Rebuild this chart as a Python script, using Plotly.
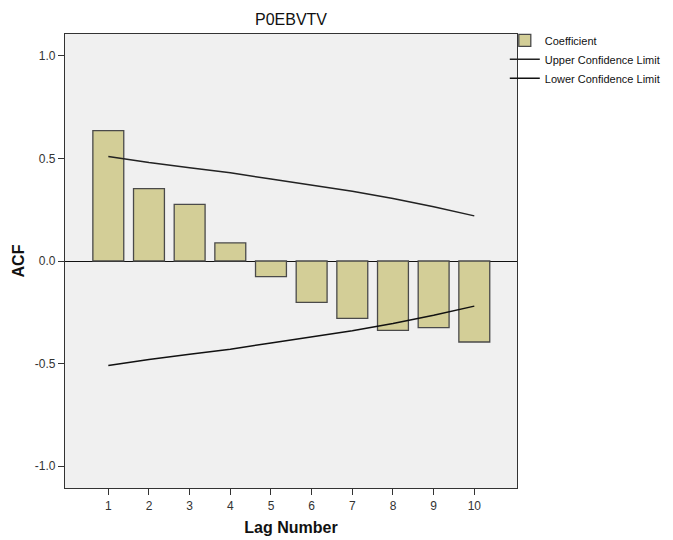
import plotly.graph_objects as go

lags = [1, 2, 3, 4, 5, 6, 7, 8, 9, 10]
coefficient = [0.636, 0.353, 0.276, 0.088, -0.076, -0.202, -0.280, -0.338, -0.325, -0.395]
upper_limit = [0.51, 0.48, 0.455, 0.43, 0.40, 0.37, 0.34, 0.305, 0.265, 0.22]
lower_limit = [-0.51, -0.48, -0.455, -0.43, -0.40, -0.37, -0.34, -0.305, -0.265, -0.22]
y_ticks = [-1.0, -0.5, 0.0, 0.5, 1.0]

font_family = "Liberation Sans, Arial, sans-serif"

# page body has an 8px margin, so the figure is sized/offset to compensate
fig = go.Figure()
fig.add_trace(go.Bar(
    x=lags, y=coefficient, name="Coefficient", width=0.76,
    marker=dict(color="#d3ce97", line=dict(color="#4a4a4a", width=1.3)),
))
fig.add_trace(go.Scatter(
    x=lags, y=upper_limit, mode="lines", name="Upper Confidence Limit",
    line=dict(color="#222222", width=1.5),
))
fig.add_trace(go.Scatter(
    x=lags, y=lower_limit, mode="lines", name="Lower Confidence Limit",
    line=dict(color="#111111", width=1.5),
))

W, H = 665, 532
fig.update_layout(
    width=W, height=H,
    margin=dict(l=57, r=156, t=26, b=52, autoexpand=False),
    paper_bgcolor="white",
    plot_bgcolor="#f0f0f0",
    font=dict(family=font_family, color="#222222"),
    title=dict(text="P0EBVTV", x=(57 + W - 156) / 2 / W, xanchor="center",
               y=1 - 11 / H, yanchor="middle",
               font=dict(size=16, color="#111111")),
    showlegend=True,
    legend=dict(x=0.973, y=1.018, xanchor="left", yanchor="top",
                font=dict(size=11, color="#111111"),
                bgcolor="rgba(0,0,0,0)", tracegroupgap=0,
                itemwidth=30),
    bargap=0.24,
)
fig.update_xaxes(
    range=[-0.065, 11.05], tickmode="array", tickvals=lags,
    ticktext=[str(v) for v in lags], automargin=False,
    ticks="outside", ticklen=6, tickcolor="#333333", tickwidth=1.3,
    showgrid=False, zeroline=False,
    showline=True, linecolor="#333333", linewidth=1.3, mirror=True,
    tickfont=dict(size=12, color="#333333"),
    title=dict(text="<b>Lag Number</b>", font=dict(size=16, color="#111111"), standoff=10),
)
fig.update_yaxes(
    range=[-1.107, 1.107], tickmode="array", tickvals=y_ticks,
    ticktext=["%.1f" % v for v in y_ticks], automargin=False,
    ticks="outside", ticklen=6, tickcolor="#333333", tickwidth=1.3,
    showgrid=False, zeroline=True, zerolinecolor="#111111", zerolinewidth=1.3,
    showline=True, linecolor="#333333", linewidth=1.3, mirror=True,
    tickfont=dict(size=12, color="#333333"),
    title=dict(text="<b>ACF</b>", font=dict(size=16, color="#111111"), standoff=6),
)

fig.write_html("out.html")
